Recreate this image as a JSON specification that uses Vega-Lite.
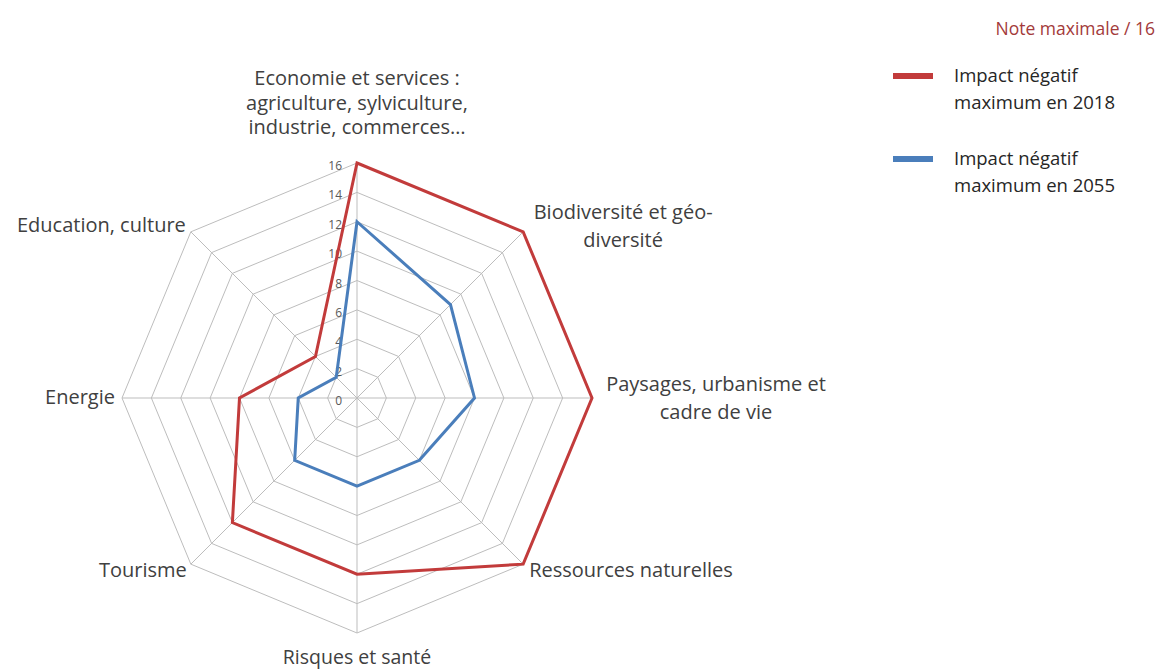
{
  "$schema": "https://vega.github.io/schema/vega-lite/v6.json",
  "width": 470,
  "height": 470,
  "autosize": {"type": "none"},
  "padding": {"left": 122, "top": 163, "right": 568, "bottom": 38},
  "background": "white",
  "title": {"text": "Note maximale / 16", "anchor": "end", "frame": "group", "orient": "top", "dx": 563, "offset": 15, "font": "Open Sans", "fontSize": 17.5, "fontWeight": "normal", "color": "#a33a3a"},
  "config": {"view": {"stroke": null}, "style": {"guide-label": {"lineHeight": 27}}},
  "datasets": {
    "axes": [
      {"axe": "Economie et services :\nagriculture, sylviculture,\nindustrie, commerces…", "k": 0},
      {"axe": "Biodiversité et géo-\ndiversité", "k": 1},
      {"axe": "Paysages, urbanisme et\ncadre de vie", "k": 2},
      {"axe": "Ressources naturelles", "k": 3},
      {"axe": "Risques et santé", "k": 4},
      {"axe": "Tourisme", "k": 5},
      {"axe": "Energie", "k": 6},
      {"axe": "Education, culture", "k": 7}
    ],
    "grid": [
      {"level": 2, "k": [0, 1, 2, 3, 4, 5, 6, 7]},
      {"level": 4, "k": [0, 1, 2, 3, 4, 5, 6, 7]},
      {"level": 6, "k": [0, 1, 2, 3, 4, 5, 6, 7]},
      {"level": 8, "k": [0, 1, 2, 3, 4, 5, 6, 7]},
      {"level": 10, "k": [0, 1, 2, 3, 4, 5, 6, 7]},
      {"level": 12, "k": [0, 1, 2, 3, 4, 5, 6, 7]},
      {"level": 14, "k": [0, 1, 2, 3, 4, 5, 6, 7]},
      {"level": 16, "k": [0, 1, 2, 3, 4, 5, 6, 7]}
    ],
    "ticks": [
      {"tick": 0}, {"tick": 2}, {"tick": 4}, {"tick": 6}, {"tick": 8},
      {"tick": 10}, {"tick": 12}, {"tick": 14}, {"tick": 16}
    ],
    "scores": [
      {"serie": "Impact négatif maximum en 2018", "k": 0, "note": 16},
      {"serie": "Impact négatif maximum en 2018", "k": 1, "note": 16},
      {"serie": "Impact négatif maximum en 2018", "k": 2, "note": 16},
      {"serie": "Impact négatif maximum en 2018", "k": 3, "note": 16},
      {"serie": "Impact négatif maximum en 2018", "k": 4, "note": 12},
      {"serie": "Impact négatif maximum en 2018", "k": 5, "note": 12},
      {"serie": "Impact négatif maximum en 2018", "k": 6, "note": 8},
      {"serie": "Impact négatif maximum en 2018", "k": 7, "note": 4},
      {"serie": "Impact négatif maximum en 2055", "k": 0, "note": 12},
      {"serie": "Impact négatif maximum en 2055", "k": 1, "note": 9},
      {"serie": "Impact négatif maximum en 2055", "k": 2, "note": 8},
      {"serie": "Impact négatif maximum en 2055", "k": 3, "note": 6},
      {"serie": "Impact négatif maximum en 2055", "k": 4, "note": 6},
      {"serie": "Impact négatif maximum en 2055", "k": 5, "note": 6},
      {"serie": "Impact négatif maximum en 2055", "k": 6, "note": 4},
      {"serie": "Impact négatif maximum en 2055", "k": 7, "note": 2}
    ]
  },
  "layer": [
    {
      "data": {"name": "grid"},
      "transform": [
        {"flatten": ["k"]},
        {"calculate": "datum.level * sin(datum.k * PI / 4)", "as": "x"},
        {"calculate": "datum.level * cos(datum.k * PI / 4)", "as": "y"}
      ],
      "mark": {"type": "line", "interpolate": "linear-closed", "stroke": "#bdbdbd", "strokeWidth": 1},
      "encoding": {
        "x": {"field": "x", "type": "quantitative", "scale": {"domain": [-16, 16], "nice": false, "zero": false}, "axis": null},
        "y": {"field": "y", "type": "quantitative", "scale": {"domain": [-16, 16], "nice": false, "zero": false}, "axis": null},
        "detail": {"field": "level", "type": "nominal"},
        "order": {"field": "k", "type": "quantitative"}
      }
    },
    {
      "data": {"name": "axes"},
      "transform": [
        {"calculate": "16 * sin(datum.k * PI / 4)", "as": "x"},
        {"calculate": "16 * cos(datum.k * PI / 4)", "as": "y"}
      ],
      "mark": {"type": "rule", "stroke": "#bdbdbd", "strokeWidth": 1},
      "encoding": {
        "x": {"field": "x", "type": "quantitative"},
        "y": {"field": "y", "type": "quantitative"},
        "x2": {"datum": 0},
        "y2": {"datum": 0}
      }
    },
    {
      "data": {"name": "ticks"},
      "mark": {"type": "text", "align": "right", "baseline": "middle", "dx": -15, "dy": 3, "font": "Open Sans", "fontSize": 12, "color": "#595959"},
      "encoding": {
        "x": {"datum": 0, "type": "quantitative"},
        "y": {"field": "tick", "type": "quantitative"},
        "text": {"field": "tick", "type": "quantitative"}
      }
    },
    {
      "data": {"name": "scores"},
      "transform": [
        {"calculate": "datum.note * sin(datum.k * PI / 4)", "as": "x"},
        {"calculate": "datum.note * cos(datum.k * PI / 4)", "as": "y"}
      ],
      "mark": {"type": "line", "interpolate": "linear-closed", "strokeWidth": 3},
      "encoding": {
        "x": {"field": "x", "type": "quantitative"},
        "y": {"field": "y", "type": "quantitative"},
        "order": {"field": "k", "type": "quantitative"},
        "color": {
          "field": "serie",
          "type": "nominal",
          "scale": {"domain": ["Impact négatif maximum en 2018", "Impact négatif maximum en 2055"], "range": ["#c23b3b", "#4a7ebb"]},
          "legend": {
            "title": null,
            "orient": "none",
            "legendX": 768,
            "legendY": -110,
            "padding": 0,
            "symbolType": "stroke",
            "symbolSize": 1600,
            "symbolStrokeWidth": 6,
            "labelOffset": 18,
            "labelFont": "Open Sans",
            "labelFontSize": 18.5,
            "labelColor": "#262626",
            "labelLimit": 300,
            "rowPadding": 23,
            "labelExpr": "['Impact négatif', substring(datum.label, 15)]"
          }
        }
      }
    },
    {
      "data": {"name": "axes"},
      "transform": [
        {"filter": "datum.k == 0"},
        {"calculate": "16 * sin(datum.k * PI / 4)", "as": "x"},
        {"calculate": "16 * cos(datum.k * PI / 4)", "as": "y"}
      ],
      "mark": {"type": "text", "align": "center", "baseline": "middle", "dy": -84, "lineBreak": "\n", "lineHeight": 24.5, "font": "Open Sans", "fontSize": 20, "color": "#404040"},
      "encoding": {"x": {"field": "x", "type": "quantitative"}, "y": {"field": "y", "type": "quantitative"}, "text": {"field": "axe", "type": "nominal"}}
    },
    {
      "data": {"name": "axes"},
      "transform": [
        {"filter": "datum.k == 1"},
        {"calculate": "16 * sin(datum.k * PI / 4)", "as": "x"},
        {"calculate": "16 * cos(datum.k * PI / 4)", "as": "y"}
      ],
      "mark": {"type": "text", "align": "center", "baseline": "middle", "dx": 100, "dy": -19, "lineBreak": "\n", "lineHeight": 28, "font": "Open Sans", "fontSize": 20, "color": "#404040"},
      "encoding": {"x": {"field": "x", "type": "quantitative"}, "y": {"field": "y", "type": "quantitative"}, "text": {"field": "axe", "type": "nominal"}}
    },
    {
      "data": {"name": "axes"},
      "transform": [
        {"filter": "datum.k == 2"},
        {"calculate": "16 * sin(datum.k * PI / 4)", "as": "x"},
        {"calculate": "16 * cos(datum.k * PI / 4)", "as": "y"}
      ],
      "mark": {"type": "text", "align": "center", "baseline": "middle", "dx": 124, "dy": -13, "lineBreak": "\n", "lineHeight": 28, "font": "Open Sans", "fontSize": 20, "color": "#404040"},
      "encoding": {"x": {"field": "x", "type": "quantitative"}, "y": {"field": "y", "type": "quantitative"}, "text": {"field": "axe", "type": "nominal"}}
    },
    {
      "data": {"name": "axes"},
      "transform": [
        {"filter": "datum.k == 3"},
        {"calculate": "16 * sin(datum.k * PI / 4)", "as": "x"},
        {"calculate": "16 * cos(datum.k * PI / 4)", "as": "y"}
      ],
      "mark": {"type": "text", "align": "left", "baseline": "middle", "dx": 6, "dy": 7, "font": "Open Sans", "fontSize": 20, "color": "#404040"},
      "encoding": {"x": {"field": "x", "type": "quantitative"}, "y": {"field": "y", "type": "quantitative"}, "text": {"field": "axe", "type": "nominal"}}
    },
    {
      "data": {"name": "axes"},
      "transform": [
        {"filter": "datum.k == 4"},
        {"calculate": "16 * sin(datum.k * PI / 4)", "as": "x"},
        {"calculate": "16 * cos(datum.k * PI / 4)", "as": "y"}
      ],
      "mark": {"type": "text", "align": "center", "baseline": "middle", "dy": 25, "font": "Open Sans", "fontSize": 19.5, "color": "#404040"},
      "encoding": {"x": {"field": "x", "type": "quantitative"}, "y": {"field": "y", "type": "quantitative"}, "text": {"field": "axe", "type": "nominal"}}
    },
    {
      "data": {"name": "axes"},
      "transform": [
        {"filter": "datum.k == 5"},
        {"calculate": "16 * sin(datum.k * PI / 4)", "as": "x"},
        {"calculate": "16 * cos(datum.k * PI / 4)", "as": "y"}
      ],
      "mark": {"type": "text", "align": "right", "baseline": "middle", "dx": -4, "dy": 7, "font": "Open Sans", "fontSize": 20, "color": "#404040"},
      "encoding": {"x": {"field": "x", "type": "quantitative"}, "y": {"field": "y", "type": "quantitative"}, "text": {"field": "axe", "type": "nominal"}}
    },
    {
      "data": {"name": "axes"},
      "transform": [
        {"filter": "datum.k == 6"},
        {"calculate": "16 * sin(datum.k * PI / 4)", "as": "x"},
        {"calculate": "16 * cos(datum.k * PI / 4)", "as": "y"}
      ],
      "mark": {"type": "text", "align": "right", "baseline": "middle", "dx": -7, "dy": 0, "font": "Open Sans", "fontSize": 20, "color": "#404040"},
      "encoding": {"x": {"field": "x", "type": "quantitative"}, "y": {"field": "y", "type": "quantitative"}, "text": {"field": "axe", "type": "nominal"}}
    },
    {
      "data": {"name": "axes"},
      "transform": [
        {"filter": "datum.k == 7"},
        {"calculate": "16 * sin(datum.k * PI / 4)", "as": "x"},
        {"calculate": "16 * cos(datum.k * PI / 4)", "as": "y"}
      ],
      "mark": {"type": "text", "align": "right", "baseline": "middle", "dx": -5, "dy": -6, "font": "Open Sans", "fontSize": 20, "color": "#404040"},
      "encoding": {"x": {"field": "x", "type": "quantitative"}, "y": {"field": "y", "type": "quantitative"}, "text": {"field": "axe", "type": "nominal"}}
    }
  ]
}
